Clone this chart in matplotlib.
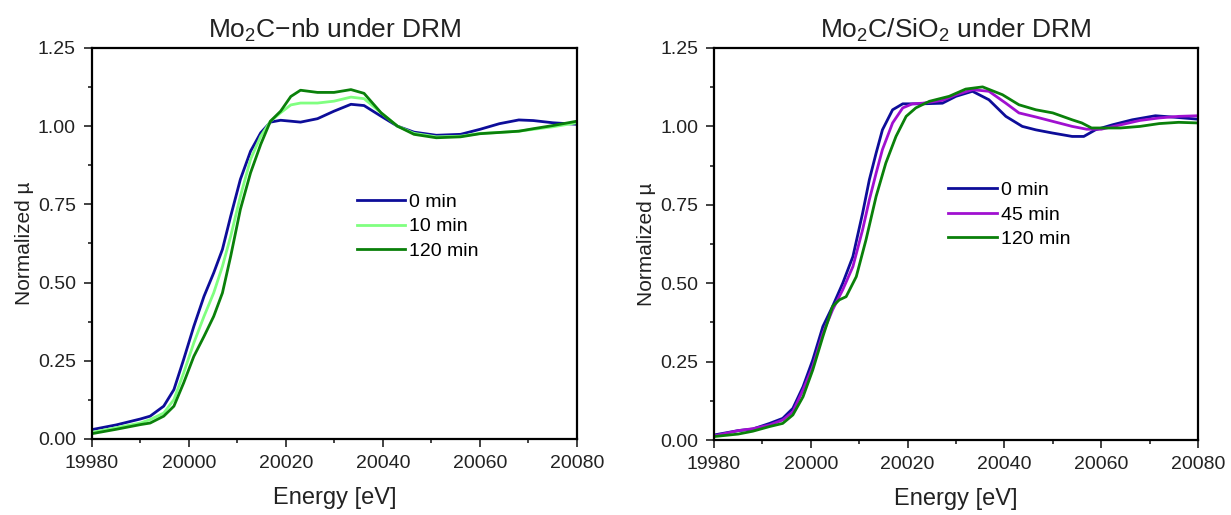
import numpy as np
import matplotlib
matplotlib.use("Agg")
import matplotlib.pyplot as plt
from matplotlib.ticker import MultipleLocator, FormatStrFormatter

plt.rcParams['font.family'] = ['Liberation Sans', 'DejaVu Sans']
plt.rcParams['mathtext.fontset'] = 'custom'
plt.rcParams['mathtext.rm'] = 'Liberation Sans'
plt.rcParams['mathtext.it'] = 'Liberation Sans'

# ---- Left panel: Mo2C-nb under DRM ----
left_E = [19980, 19985, 19990, 19992, 19994.8, 19996.9, 19998.9, 20001.0, 20003.1, 20005.1,
          20006.9, 20008.6, 20010.6, 20012.7, 20014.8, 20016.8, 20018.9, 20021, 20023, 20026.5,
          20029.9, 20033.4, 20036.1, 20039.6, 20043, 20046.4, 20051, 20056, 20060, 20064,
          20068, 20071, 20075, 20080]
left_0min = [0.030, 0.045, 0.064, 0.073, 0.105, 0.158, 0.254, 0.360, 0.456, 0.531,
             0.606, 0.712, 0.830, 0.920, 0.979, 1.013, 1.019, 1.016, 1.013, 1.024,
             1.048, 1.070, 1.066, 1.032, 1.000, 0.981, 0.971, 0.974, 0.990, 1.008,
             1.020, 1.018, 1.011, 1.006]
left_10min = [0.021, 0.036, 0.051, 0.062, 0.083, 0.126, 0.211, 0.307, 0.392, 0.467,
              0.552, 0.648, 0.776, 0.894, 0.968, 1.016, 1.043, 1.068, 1.074, 1.074,
              1.080, 1.093, 1.088, 1.043, 1.000, 0.977, 0.966, 0.968, 0.977, 0.980,
              0.984, 0.990, 0.998, 1.011]
left_120min = [0.017, 0.031, 0.046, 0.051, 0.073, 0.105, 0.179, 0.264, 0.328, 0.392,
               0.467, 0.584, 0.734, 0.851, 0.942, 1.016, 1.048, 1.095, 1.115, 1.108,
               1.108, 1.117, 1.105, 1.043, 1.000, 0.974, 0.963, 0.966, 0.976, 0.980,
               0.984, 0.992, 1.002, 1.016]

# ---- Right panel: Mo2C/SiO2 under DRM ----
right_E_0min = [19980, 19985, 19988, 19991.5, 19994.2, 19996.3, 19998.4, 20000.4, 20002.5, 20004.5,
                20006.6, 20008.7, 20010.7, 20012.1, 20013.5, 20014.8, 20016.9, 20019.0, 20023.1, 20027.2,
                20030, 20033.4, 20036.8, 20040.3, 20043.7, 20046.5, 20049.9, 20054, 20056.4, 20058.8,
                20062.3, 20066.4, 20071.2, 20074.6, 20080]
right_0min = [0.016, 0.030, 0.035, 0.053, 0.069, 0.101, 0.170, 0.255, 0.362, 0.426,
              0.500, 0.585, 0.723, 0.830, 0.915, 0.989, 1.053, 1.072, 1.072, 1.074,
              1.096, 1.112, 1.085, 1.032, 1.000, 0.989, 0.979, 0.968, 0.968, 0.989,
              1.005, 1.021, 1.034, 1.030, 1.023]
right_E_45min = [19980, 19985, 19988, 19991.5, 19994.2, 19996.3, 19998.4, 20000.4, 20002.5, 20004.5,
                 20006.6, 20008.7, 20010.7, 20012.1, 20013.5, 20014.8, 20016.9, 20019.0, 20021, 20023.1,
                 20027.2, 20030, 20033.4, 20036.8, 20040.3, 20043, 20046.5, 20050, 20054, 20057,
                 20060, 20064, 20068, 20072, 20076, 20080]
right_45min = [0.013, 0.030, 0.036, 0.048, 0.064, 0.090, 0.160, 0.234, 0.340, 0.415,
               0.479, 0.553, 0.670, 0.766, 0.851, 0.926, 1.011, 1.059, 1.072, 1.074,
               1.083, 1.101, 1.117, 1.112, 1.074, 1.043, 1.030, 1.016, 1.000, 0.991,
               0.991, 1.005, 1.019, 1.027, 1.032, 1.034]
right_E_120min = [19980, 19985, 19988, 19991.5, 19994.2, 19996.3, 19998.4, 20000.4, 20002.5, 20004.5,
                  20005.9, 20007.3, 20009.4, 20011.4, 20013.5, 20015.5, 20017.6, 20019.7, 20021.7, 20024.5,
                  20028.6, 20032, 20035.5, 20039.6, 20043, 20046.5, 20050, 20054, 20056, 20058,
                  20060, 20064, 20068, 20072, 20076, 20080]
right_120min = [0.011, 0.019, 0.028, 0.043, 0.053, 0.080, 0.138, 0.223, 0.330, 0.426,
                0.447, 0.457, 0.521, 0.638, 0.777, 0.883, 0.968, 1.032, 1.059, 1.080,
                1.096, 1.119, 1.126, 1.101, 1.069, 1.053, 1.043, 1.021, 1.011, 0.995,
                0.995, 0.995, 1.000, 1.009, 1.013, 1.011]

left_labels = ['0 min', '10 min', '120 min']
left_colors = ['#0d0d99', '#80ff80', '#0a800a']
right_labels = ['0 min', '45 min', '120 min']
right_colors = ['#0d0d99', '#a010d0', '#0a800a']

fig = plt.figure(figsize=(12.31, 5.15), dpi=100)
ax1 = fig.add_axes([0.0747, 0.1476, 0.3940, 0.7592])
ax2 = fig.add_axes([0.5800, 0.1456, 0.3932, 0.7612])


def style(ax, title, legpos):
    ax.set_xlim(19980, 20080)
    ax.set_ylim(0, 1.25)
    ax.xaxis.set_major_locator(MultipleLocator(20))
    ax.xaxis.set_minor_locator(MultipleLocator(10))
    ax.yaxis.set_major_locator(MultipleLocator(0.25))
    ax.yaxis.set_minor_locator(MultipleLocator(0.125))
    ax.yaxis.set_major_formatter(FormatStrFormatter('%.2f'))
    ax.tick_params(which='both', direction='out', top=False, right=False,
                   labelsize=14, width=1.2, colors='#222222', pad=6)
    ax.tick_params(which='major', length=5.5)
    ax.tick_params(which='minor', length=3)
    for s in ax.spines.values():
        s.set_linewidth(1.6)
    ax.set_xlabel('Energy [eV]', fontsize=17, labelpad=11, color='#222222')
    ax.set_ylabel('Normalized µ', fontsize=15, labelpad=3, color='#222222')
    ax.set_title(title, fontsize=19, pad=7, color='#222222')
    ax.legend(loc='upper left', bbox_to_anchor=legpos, frameon=False,
              fontsize=14, handlelength=2.5, handletextpad=0.2,
              labelspacing=0.35, borderaxespad=0, borderpad=0)


for x, y, lab, c in zip([left_E, left_E, left_E], [left_0min, left_10min, left_120min],
                        left_labels, left_colors):
    ax1.plot(x, y, color=c, lw=2.0, label=lab, solid_joinstyle='round')
style(ax1, 'Mo$_2$C−nb under DRM', (0.546, 0.628))

for x, y, lab, c in zip([right_E_0min, right_E_45min, right_E_120min],
                        [right_0min, right_45min, right_120min], right_labels, right_colors):
    ax2.plot(x, y, color=c, lw=2.0, label=lab, solid_joinstyle='round')
style(ax2, 'Mo$_2$C/SiO$_2$ under DRM', (0.4835, 0.659))

fig.savefig('out.png', dpi=100)
